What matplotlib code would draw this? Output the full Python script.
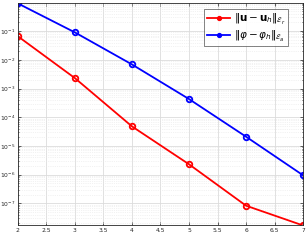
import matplotlib.pyplot as plt
from matplotlib.ticker import LogLocator, MultipleLocator, NullFormatter, FixedLocator

k = [2, 3, 4, 5, 6, 7]
err_u = [6.6e-2, 2.3e-3, 4.8e-5, 2.3e-6, 8.3e-8, 1.7e-8]
err_phi = [0.92, 9.0e-2, 6.9e-3, 4.3e-4, 2.1e-5, 9.5e-7]
labels = [r'$\|\mathbf{u}-\mathbf{u}_h\|_{\mathcal{E}_r}$',
          r'$\|\varphi-\varphi_h\|_{\mathcal{E}_a}$']
yticks = [1e-7, 1e-6, 1e-5, 1e-4, 1e-3, 1e-2, 1e-1]
xticks = [2, 2.5, 3, 3.5, 4, 4.5, 5, 5.5, 6, 6.5, 7]

fig = plt.figure(figsize=(3.08, 2.44), dpi=100)
ax = fig.add_axes([0.058, 0.076, 0.926, 0.910])

ax.semilogy(k, err_u, 'o-', color='red', lw=1.3, ms=4, mfc='none', mew=1.3, label=labels[0])
ax.semilogy(k, err_phi, 'o-', color='blue', lw=1.3, ms=4, mfc='none', mew=1.3, label=labels[1])

ax.set_xlim(2, 7)
ax.set_ylim(min(err_u), max(err_phi))
ax.set_xticks(xticks, [f'{v:g}' for v in xticks])
ax.yaxis.set_major_locator(FixedLocator(yticks))
ax.yaxis.set_minor_locator(LogLocator(base=10, subs=range(2, 10), numticks=20))
ax.yaxis.set_minor_formatter(NullFormatter())

ax.grid(True, which='major', color='#dcdcdc', lw=0.6)
ax.grid(True, which='minor', axis='y', color='#e6e6e6', lw=0.5, ls=':')
ax.tick_params(which='both', direction='in', top=True, right=True, labelsize=4.3,
               length=2, width=0.5, colors='#262626', pad=1.5)
ax.tick_params(which='minor', length=1)
for s in ax.spines.values():
    s.set_color('#262626')
    s.set_linewidth(0.6)

leg = ax.legend(loc='upper right', fontsize=7.5, fancybox=False, edgecolor='#262626',
                handlelength=2.2, borderpad=0.25, labelspacing=0.15, handletextpad=0.4,
                borderaxespad=0, bbox_to_anchor=(0.948, 0.973))
for h in leg.legend_handles:
    h.set_markerfacecolor(h.get_color())
    h.set_markersize(2.5)
leg.get_frame().set_linewidth(0.5)

fig.savefig('out.png', dpi=100)
